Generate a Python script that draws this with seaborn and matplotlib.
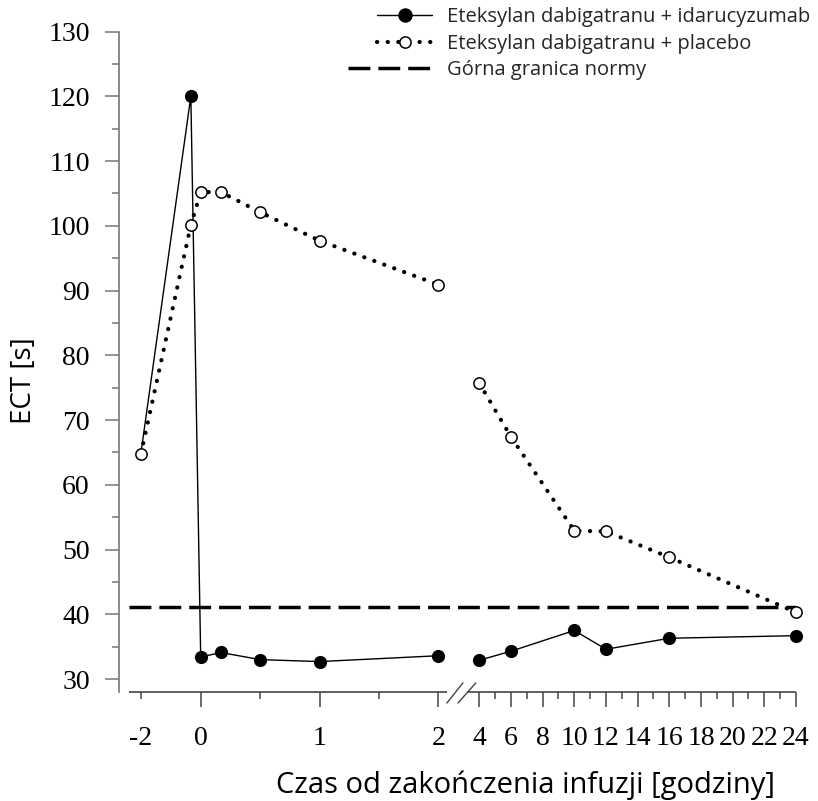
import numpy as np
import pandas as pd
import matplotlib
matplotlib.use("Agg")
import matplotlib.pyplot as plt
from matplotlib.lines import Line2D
from matplotlib.legend_handler import HandlerLine2D
from matplotlib.ticker import FixedLocator, FixedFormatter
import seaborn as sns

# ---------------- data ----------------
time_idaru = [-2, -0.33, 0, 0.17, 0.5, 1, 2, 4, 6, 10, 12, 16, 24]
ect_idaru = [65.0, 120.0, 33.4, 34.1, 33.0, 32.7, 33.6, 32.9, 34.3, 37.5, 34.6, 36.3, 36.7]
seg_idaru = [0, 0, 0, 0, 0, 0, 0, 1, 1, 1, 1, 1, 1]

time_placebo = [-2, -0.33, 0, 0.17, 0.5, 1, 2, 4, 6, 10, 12, 16, 24]
ect_placebo = [64.8, 100.1, 105.2, 105.2, 102.1, 97.7, 90.9, 75.7, 67.4, 52.9, 52.8, 48.8, 40.3]
seg_placebo = [0, 0, 0, 0, 0, 0, 0, 1, 1, 1, 1, 1, 1]

norm_value = 41.2
norm_span = [-2.4, 24]

label_idaru = "Eteksylan dabigatranu + idarucyzumab"
label_placebo = "Eteksylan dabigatranu + placebo"
label_norm = "Górna granica normy"

xmajor = [0, 1, 2, 4, 6, 8, 10, 12, 14, 16, 18, 20, 22, 24]
xmajor_labels = ["0", "1", "2", "4", "6", "8", "10", "12", "14", "16", "18", "20", "22", "24"]
xminor = [-2, 0.5, 1.5, 5, 7, 9, 11, 13, 15, 17, 19, 21, 23]
xminor_labels = ["-2"] + [""] * 12
ymajor = [30, 40, 50, 60, 70, 80, 90, 100, 110, 120, 130]
yminor = [35, 45, 55, 65, 75, 85, 95, 105, 115, 125]

xlabel = "Czas od zakończenia infuzji [godziny]"
ylabel = "ECT [s]"

df_i = pd.DataFrame({"t": time_idaru, "ect": ect_idaru, "seg": seg_idaru})
df_p = pd.DataFrame({"t": time_placebo, "ect": ect_placebo, "seg": seg_placebo})
df_n = pd.DataFrame({"t": norm_span, "ect": [norm_value] * len(norm_span)})

# ---------------- broken x scale ----------------
brk_data = [-2.74, -2, 0, 2, 4, 24]
brk_px = [119, 141, 200.7, 438.3, 479.3, 796]


def _pw(x, xp, fp):
    x = np.asarray(x, dtype=float)
    y = np.interp(x, xp, fp)
    y = np.where(x < xp[0], fp[0] + (x - xp[0]) * (fp[1] - fp[0]) / (xp[1] - xp[0]), y)
    y = np.where(x > xp[-1], fp[-1] + (x - xp[-1]) * (fp[-1] - fp[-2]) / (xp[-1] - xp[-2]), y)
    return y


def fwd(x):
    return _pw(x, brk_data, brk_px)


def inv(x):
    return _pw(x, brk_px, brk_data)


sns.set_theme(style="white")
plt.rcParams["font.family"] = ["Open Sans", "DejaVu Sans"]

DOT = (0.05, 2.5)
DOT_LW = 3.0
DASH = (6.3, 2.3)

W, H = 818, 801
fig = plt.figure(figsize=(W / 100, H / 100), dpi=100)
ax = fig.add_axes([119 / W, 1 - 692 / H, 677 / W, 660.5 / H])
ax.set_xscale("function", functions=(fwd, inv))
ax.set_xlim(-2.74, 24)
ax.set_ylim(28, 130)

# norm line
sns.lineplot(data=df_n, x="t", y="ect", ax=ax, color="black", lw=2.5,
             legend=False, zorder=2)
ax.lines[-1].set_dashes(DASH)
ax.lines[-1].set_dash_capstyle("butt")

# idarucizumab lines + markers
sns.lineplot(data=df_i, x="t", y="ect", units="seg", estimator=None, ax=ax,
             color="black", lw=1.0, legend=False, zorder=3)
sns.scatterplot(data=df_i[df_i["t"] > -2], x="t", y="ect", ax=ax, color="black",
                s=90, edgecolor="black", linewidth=0, zorder=4, clip_on=False, legend=False)

# placebo lines + markers
n_before = len(ax.lines)
sns.lineplot(data=df_p, x="t", y="ect", units="seg", estimator=None, ax=ax,
             color="black", lw=DOT_LW, legend=False, zorder=5)
for ln in ax.lines[n_before:]:
    ln.set_dashes(DOT)
    ln.set_dash_capstyle("round")
sns.scatterplot(data=df_p, x="t", y="ect", ax=ax, color="white", s=66,
                edgecolor="black", linewidth=1.1, zorder=6, clip_on=False, legend=False)

# spines / axis
for s in ["top", "right", "bottom"]:
    ax.spines[s].set_visible(False)
ax.spines["left"].set_color("#777777")
ax.spines["left"].set_linewidth(1.2)
axis_col = "#444444"
ax.plot([-2.4, 2.42], [28, 28], color=axis_col, lw=1.2, clip_on=False, zorder=1,
        solid_capstyle="butt")
ax.plot([3.4, 24], [28, 28], color=axis_col, lw=1.2, clip_on=False, zorder=1,
        solid_capstyle="butt")
ax.plot([2.42, 3.20], [26.3, 29.4], color=axis_col, lw=1.0, clip_on=False)
ax.plot([2.96, 3.83], [26.3, 29.4], color=axis_col, lw=1.0, clip_on=False)

ax.xaxis.set_major_locator(FixedLocator(xmajor))
ax.xaxis.set_major_formatter(FixedFormatter(xmajor_labels))
ax.xaxis.set_minor_locator(FixedLocator(xminor))
ax.xaxis.set_minor_formatter(FixedFormatter(xminor_labels))
ax.yaxis.set_major_locator(FixedLocator(ymajor))
ax.yaxis.set_minor_locator(FixedLocator(yminor))

serif = ["Liberation Serif", "DejaVu Serif"]
ax.tick_params(axis="x", which="major", direction="out", length=10.6, width=1.1,
               color=axis_col, pad=14, labelsize=20, bottom=True)
ax.tick_params(axis="x", which="minor", direction="out", length=5, width=1.1,
               color=axis_col, pad=19.5, labelsize=20, bottom=True)
ax.tick_params(axis="y", which="major", direction="out", length=10, width=1.1,
               color="#777777", pad=11, labelsize=20, left=True)
ax.tick_params(axis="y", which="minor", direction="out", length=5, width=1.1,
               color="#777777", left=True)
for lab in ax.get_xticklabels(which="both") + ax.get_yticklabels():
    lab.set_family(serif)
    lab.set_color("black")

ax.set_xlabel(xlabel, fontsize=21, color="black")
ax.set_ylabel(ylabel, fontsize=20, color="black")
ax.xaxis.set_label_coords(0.601, -0.119)
ax.yaxis.set_label_coords(-0.12, 0.471)
ax.xaxis.label.set_va("top")

# legend
class LongHandler(HandlerLine2D):
    def __init__(self, extra, **kw):
        super().__init__(**kw)
        self.extra = extra

    def create_artists(self, legend, orig_handle, xdescent, ydescent, width, height,
                       fontsize, trans):
        return super().create_artists(legend, orig_handle, xdescent + self.extra, ydescent,
                                      width + self.extra, height, fontsize, trans)


h1 = Line2D([], [], color="black", lw=1.0, marker="o", ms=9.4, mfc="black", mec="black")
h2 = Line2D([], [], color="black", lw=DOT_LW, marker="o", ms=8.1, mfc="white", mec="black",
            mew=1.1, dashes=DOT, dash_capstyle="round")
h3 = Line2D([], [], color="black", lw=2.5, dashes=DASH, dash_capstyle="butt")
leg = ax.legend([h1, h2, h3], [label_idaru, label_placebo, label_norm],
                loc="upper left", bbox_to_anchor=(377 / W, 1 - 7 / H),
                bbox_transform=fig.transFigure, frameon=False, fontsize=14.5,
                borderpad=0, borderaxespad=0, handlelength=2.75, handletextpad=0.75,
                labelspacing=0.33, handler_map={h3: LongHandler(21)})

fig.savefig("out.png", dpi=100)
